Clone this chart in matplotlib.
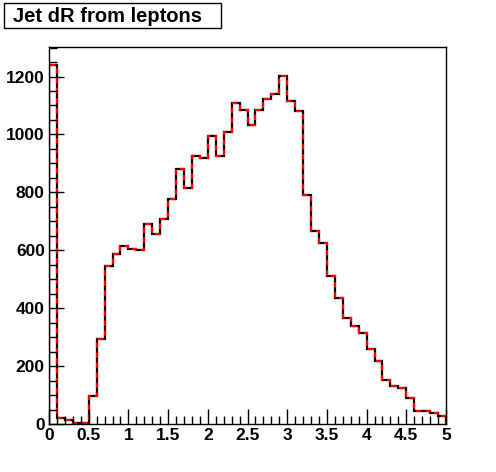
import numpy as np
import matplotlib
matplotlib.use("Agg")
import matplotlib.pyplot as plt
from matplotlib.patches import Rectangle
from matplotlib.ticker import MultipleLocator

plt.rcParams['font.family'] = ['Liberation Sans', 'DejaVu Sans']
plt.rcParams['font.weight'] = 'bold'

# Jet dR from leptons, 50 bins between 0 and 5
n_bins = 50
x_min, x_max = 0.0, 5.0
counts = [1240, 22, 13, 4, 2, 97, 293, 546, 586, 615,
          603, 600, 692, 656, 708, 777, 880, 815, 924, 918,
          993, 924, 1009, 1108, 1084, 1031, 1086, 1124, 1140, 1201,
          1115, 1080, 791, 667, 625, 511, 436, 367, 338, 315,
          260, 218, 153, 132, 124, 90, 46, 46, 39, 28]
title = "Jet dR from leptons"

edges = np.linspace(x_min, x_max, n_bins + 1)

W, H = 496, 472
fig = plt.figure(figsize=(W / 100, H / 100), dpi=100)
ax = fig.add_axes([49 / W, 1 - 424 / H, (446 - 49) / W, (424 - 47) / H])

# black solid underneath, red dashed on top
ax.stairs(counts, edges, color='black', linewidth=1.6)
ax.stairs(counts, edges, color='red', linewidth=1.6, linestyle=(0, (2.5, 2)))

ax.set_xlim(x_min, x_max)
ax.set_ylim(0, max(counts) * 1.05)

ax.xaxis.set_major_locator(MultipleLocator(0.5))
ax.xaxis.set_minor_locator(MultipleLocator(0.1))
ax.yaxis.set_major_locator(MultipleLocator(200))
ax.yaxis.set_minor_locator(MultipleLocator(50))
ax.xaxis.set_major_formatter(lambda v, p: f"{v:g}")

ax.tick_params(which='both', direction='in', top=False, right=False, width=1)
ax.tick_params(which='major', length=11, labelsize=12.5)
ax.tick_params(which='minor', length=5.5)
ax.tick_params(axis='x', pad=3)
ax.tick_params(axis='y', pad=3)
for lbl in ax.get_xticklabels() + ax.get_yticklabels():
    lbl.set_fontweight('bold')
for s in ax.spines.values():
    s.set_linewidth(1)

# title box in the top-left corner, ROOT style
fig.patches.append(Rectangle((4 / W, 1 - 28 / H), 217 / W, 25 / H,
                             transform=fig.transFigure, facecolor='white',
                             edgecolor='black', linewidth=1))
fig.text(13 / W, 1 - 16.5 / H, title, fontsize=14.5, fontweight='bold',
         ha='left', va='center')

fig.savefig('out.png', dpi=100)
